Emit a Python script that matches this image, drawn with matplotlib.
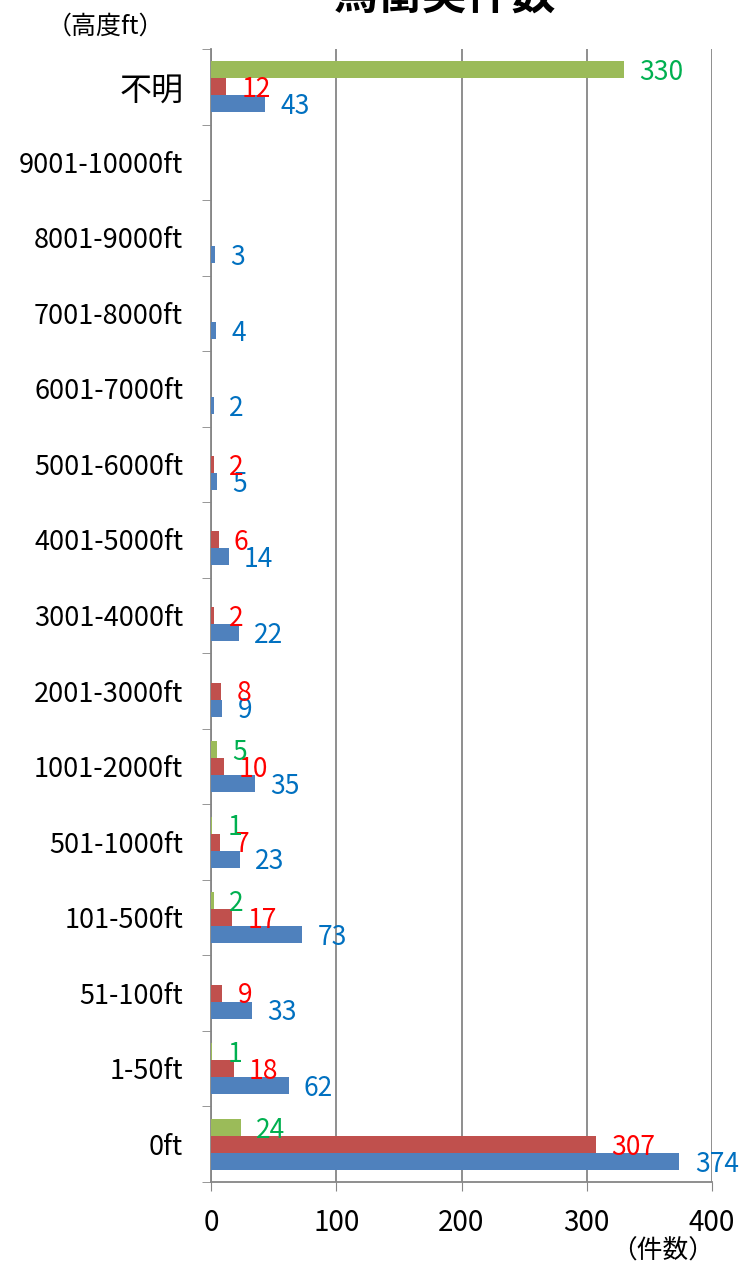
import numpy as np
import matplotlib
matplotlib.use("Agg")
import matplotlib.pyplot as plt

plt.rcParams['font.family'] = ['Noto Sans CJK JP', 'DejaVu Sans']

# categories bottom -> top
categories = ['0ft', '1-50ft', '51-100ft', '101-500ft', '501-1000ft', '1001-2000ft',
              '2001-3000ft', '3001-4000ft', '4001-5000ft', '5001-6000ft', '6001-7000ft',
              '7001-8000ft', '8001-9000ft', '9001-10000ft', '不明']
blue_vals = [374, 62, 33, 73, 23, 35, 9, 22, 14, 5, 2, 4, 3, 0, 43]
red_vals = [307, 18, 9, 17, 7, 10, 8, 2, 6, 2, 0, 0, 0, 0, 12]
green_vals = [24, 1, 0, 2, 1, 5, 0, 0, 0, 0, 0, 0, 0, 0, 330]

series = [
    (blue_vals, '#4F81BD', '#0070C0', -1),
    (red_vals, '#C0504D', '#FF0000', 0),
    (green_vals, '#9BBB59', '#00B050', 1),
]

fig = plt.figure(figsize=(7.44, 12.70), dpi=100)
ax = fig.add_axes([211 / 744, 88 / 1270, 501 / 744, 1133 / 1270])

y = np.arange(len(categories))
h = 0.225
for vals, color, lab_color, k in series:
    vals = np.array(vals)
    ax.barh(y + k * h, vals, height=h, color=color, zorder=3)
    for yi, v in zip(y, vals):
        if v == 0:
            continue
        ax.annotate(str(v), (v, yi + k * h), xytext=(11, -2), textcoords='offset points',
                    ha='left', va='center', color=lab_color, fontsize=19, zorder=4)

ax.set_xlim(0, 400)
ax.set_ylim(-0.5, len(categories) - 0.5)
ax.set_xticks([0, 100, 200, 300, 400])
ax.tick_params(axis='x', labelsize=20, length=6.5, color='#868686', pad=12)
ax.set_yticks(y)
ax.set_yticklabels(categories)
ax.set_yticks(np.arange(-0.5, len(categories)), minor=True)
ax.tick_params(axis='y', which='major', length=0, labelsize=19.5, pad=20)
ax.get_yticklabels()[-1].set_fontsize(23)
ax.tick_params(axis='y', which='minor', length=6.5, color='#868686')
ax.xaxis.grid(True, color='#868686', linewidth=1.3, zorder=0)
for s in ['top', 'right']:
    ax.spines[s].set_visible(False)
for s in ['left', 'bottom']:
    ax.spines[s].set_color('#868686')
    ax.spines[s].set_linewidth(1.3)

fig.text(445 / 744, 1 - 9 / 1270, '鳥衝突件数', ha='center', va='baseline',
         fontsize=32, fontweight='bold')
fig.text(105 / 744, 1 - 27 / 1270, '（高度ft）', ha='center', va='center', fontsize=18)
fig.text(663 / 744, 1 - 1252 / 1270, '（件数）', ha='center', va='center', fontsize=18.5)

fig.savefig('out.png', dpi=100)
